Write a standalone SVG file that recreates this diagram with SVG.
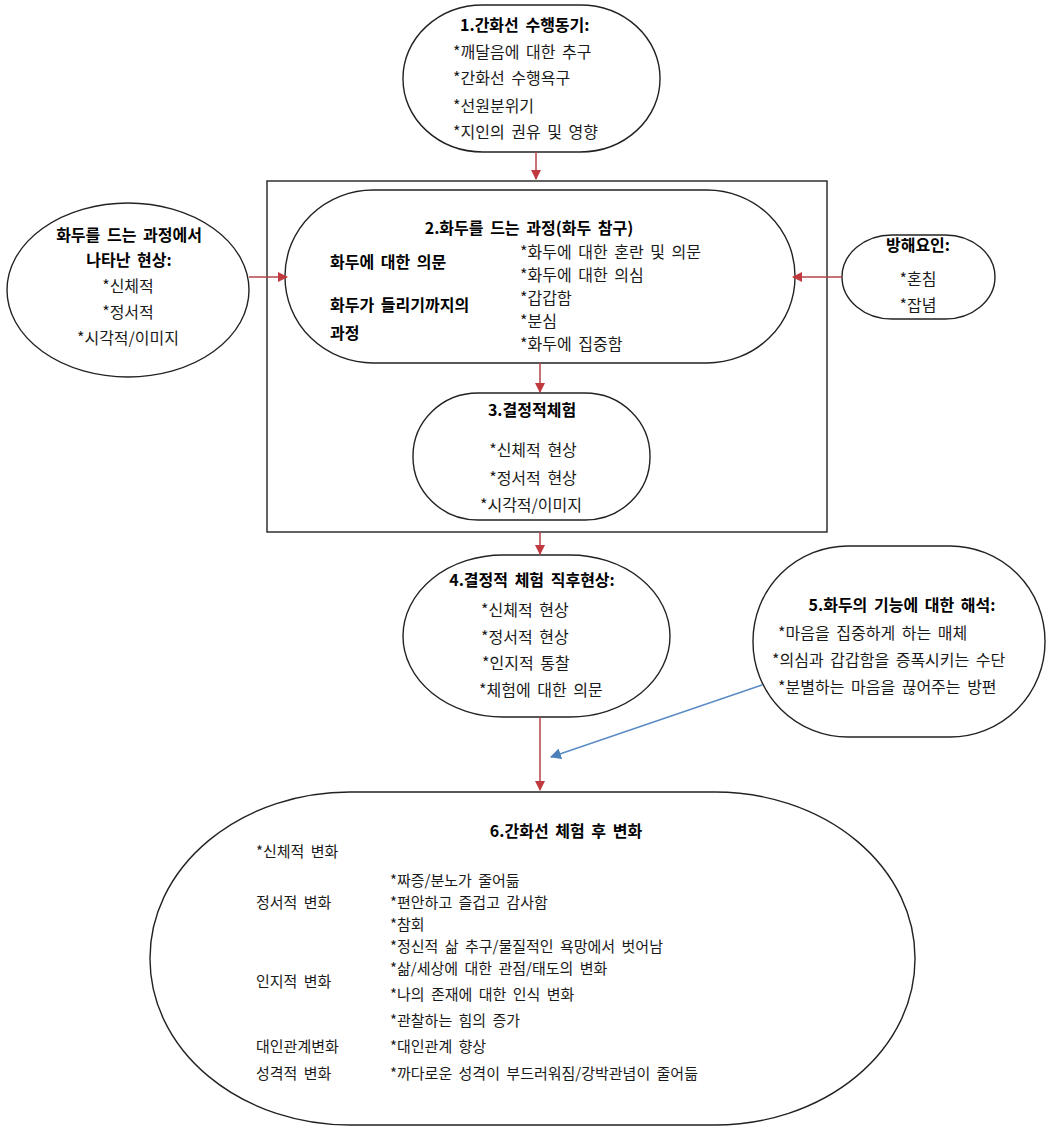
<svg xmlns="http://www.w3.org/2000/svg" width="1046" height="1129" viewBox="0 0 1046 1129">
<defs>
<marker id="ar" viewBox="0 0 10 10" refX="9" refY="5" markerWidth="10" markerHeight="10" markerUnits="userSpaceOnUse" orient="auto"><path d="M0,0 L10,5 L0,10 z" fill="#c0393f"/></marker>
<marker id="ab" viewBox="0 0 10 10" refX="9" refY="5" markerWidth="11" markerHeight="11" markerUnits="userSpaceOnUse" orient="auto"><path d="M0,0 L10,5 L0,10 z" fill="#4a7fb8"/></marker>
<style>
.s{fill:#fff;stroke:#222;stroke-width:1.4}
text{font-family:"Noto Sans CJK KR","Noto Sans",sans-serif;font-size:16px;fill:#1a1a1a;word-spacing:3px}
.b{font-weight:bold;fill:#000}
.m{text-anchor:middle}
.t{font-size:15px}
.r{stroke:#b5434a;stroke-width:1.5;fill:none}
.bl{stroke:#5a8cc4;stroke-width:1.5;fill:none}
</style>
</defs>
<rect width="1046" height="1129" fill="#fff"/>
<rect id="box" x="267" y="181" width="560" height="351" fill="none" stroke="#222" stroke-width="1.4"/>
<g id="n1">
<rect class="s" x="403" y="5" width="257" height="147" rx="80" ry="73"/>
<text class="b" x="460" y="31">1.간화선 수행동기:</text>
<text x="453" y="58">*깨달음에 대한 추구</text>
<text x="453" y="84">*간화선 수행욕구</text>
<text x="453" y="112">*선원분위기</text>
<text x="453" y="138">*지인의 권유 및 영향</text>
</g>
<g id="nleft">
<ellipse class="s" cx="128" cy="290" rx="121" ry="87"/>
<text class="b m" x="129" y="241">화두를 드는 과정에서</text>
<text class="b m" x="129" y="266">나타난 현상:</text>
<text class="m" x="128" y="292">*신체적</text>
<text class="m" x="128" y="318">*정서적</text>
<text class="m" x="128" y="344">*시각적/이미지</text>
</g>
<g id="n2">
<rect class="s" x="285" y="190" width="510" height="173" rx="88" ry="86"/>
<text class="b m" x="529" y="234">2.화두를 드는 과정(화두 참구)</text>
<text class="b" x="330" y="268">화두에 대한 의문</text>
<text class="b" x="330" y="311">화두가 들리기까지의</text>
<text class="b" x="330" y="339">과정</text>
<text x="520" y="258">*화두에 대한 혼란 및 의문</text>
<text x="520" y="281">*화두에 대한 의심</text>
<text x="520" y="304">*갑갑함</text>
<text x="520" y="327">*분심</text>
<text x="520" y="350">*화두에 집중함</text>
</g>
<g id="nright">
<rect class="s" x="842" y="235" width="153" height="84" rx="50" ry="42"/>
<text class="b m" x="918" y="251">방해요인:</text>
<text class="m" x="918" y="285">*혼침</text>
<text class="m" x="918" y="311">*잡념</text>
</g>
<g id="n3">
<rect class="s" x="413" y="393" width="237" height="127" rx="65" ry="63"/>
<text class="b m" x="532" y="416">3.결정적체험</text>
<text class="m" x="533" y="456">*신체적 현상</text>
<text class="m" x="533" y="484">*정서적 현상</text>
<text class="m" x="531" y="511">*시각적/이미지</text>
</g>
<g id="n4">
<rect class="s" x="403" y="555" width="267" height="162" rx="100" ry="81"/>
<text class="b m" x="532" y="586">4.결정적 체험 직후현상:</text>
<text x="481" y="616">*신체적 현상</text>
<text x="481" y="643">*정서적 현상</text>
<text x="482" y="669">*인지적 통찰</text>
<text x="479" y="696">*체험에 대한 의문</text>
</g>
<g id="n5">
<rect class="s" x="753" y="546" width="292" height="191" rx="95" ry="95"/>
<text class="b m" x="902" y="611">5.화두의 기능에 대한 해석:</text>
<text x="778" y="639">*마음을 집중하게 하는 매체</text>
<text x="772" y="666">*의심과 갑갑함을 증폭시키는 수단</text>
<text x="778" y="693">*분별하는 마음을 끊어주는 방편</text>
</g>
<g id="n6">
<rect class="s" x="150" y="792" width="765" height="333" rx="200" ry="166"/>
<text class="b m" x="566" y="837">6.간화선 체험 후 변화</text>
<text class="t" x="256" y="857">*신체적 변화</text>
<text class="t" x="390" y="886">*짜증/분노가 줄어듦</text>
<text class="t" x="256" y="908">정서적 변화</text>
<text class="t" x="390" y="908">*편안하고 즐겁고 감사함</text>
<text class="t" x="390" y="930">*참회</text>
<text class="t" x="390" y="952">*정신적 삶 추구/물질적인 욕망에서 벗어남</text>
<text class="t" x="390" y="974">*삶/세상에 대한 관점/태도의 변화</text>
<text class="t" x="256" y="987">인지적 변화</text>
<text class="t" x="390" y="1000">*나의 존재에 대한 인식 변화</text>
<text class="t" x="390" y="1026">*관찰하는 힘의 증가</text>
<text class="t" x="256" y="1052">대인관계변화</text>
<text class="t" x="390" y="1052">*대인관계 향상</text>
<text class="t" x="256" y="1079">성격적 변화</text>
<text class="t" x="390" y="1079">*까다로운 성격이 부드러워짐/강박관념이 줄어듦</text>
</g>
<g id="connectors">
<line class="r" x1="536" y1="152" x2="536" y2="179" marker-end="url(#ar)"/>
<line class="r" x1="249" y1="277" x2="287" y2="277" marker-end="url(#ar)"/>
<line class="r" x1="842" y1="277" x2="793" y2="277" marker-end="url(#ar)"/>
<line class="r" x1="540" y1="363" x2="540" y2="392" marker-end="url(#ar)"/>
<line class="r" x1="540" y1="532" x2="540" y2="554" marker-end="url(#ar)"/>
<line class="r" x1="540" y1="717" x2="540" y2="790" marker-end="url(#ar)"/>
<line class="bl" x1="762" y1="685" x2="551" y2="757" marker-end="url(#ab)"/>
</g>
</svg>
